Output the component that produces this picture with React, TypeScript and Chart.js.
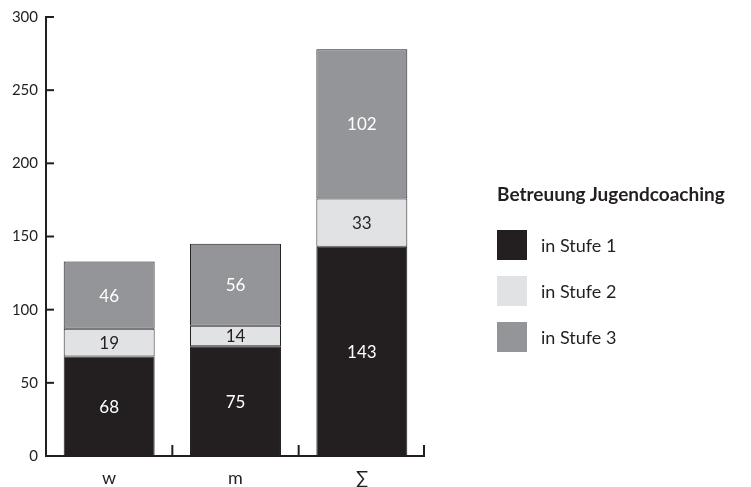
import React, { useEffect, useRef } from "react";
import { Chart, registerables } from "chart.js";

Chart.register(...registerables);

const categories = ["w", "m", "∑"];
const stufe1 = [68, 75, 143];
const stufe2 = [19, 14, 33];
const stufe3 = [46, 56, 102];
const seriesNames = ["in Stufe 1", "in Stufe 2", "in Stufe 3"];
const legendLabels = ["in Stufe 1", "in Stufe 2", "in Stufe 3"];
const legendTitle = "Betreuung Jugendcoaching";
const yTicks = [0, 50, 100, 150, 200, 250, 300];

const DARK = "#231f20";
const LIGHT = "#e1e2e4";
const MID = "#939598";
const FONT = "Lato, 'Open Sans', sans-serif";

const axisPlugin = {
  id: "axisPlugin",
  afterDatasetsDraw(chart: any) {
    const ctx = chart.ctx;
    const x = chart.scales.x;
    const y = chart.scales.y;
    const area = chart.chartArea;
    ctx.save();
    ctx.strokeStyle = DARK;
    ctx.lineWidth = 2;
    ctx.beginPath();
    ctx.moveTo(area.left, y.getPixelForValue(300) - 1);
    ctx.lineTo(area.left, y.getPixelForValue(0));
    ctx.lineTo(area.right, y.getPixelForValue(0));
    ctx.stroke();
    yTicks.forEach((v) => {
      const py = y.getPixelForValue(v);
      ctx.beginPath();
      ctx.moveTo(area.left, py);
      ctx.lineTo(area.left + 8, py);
      ctx.stroke();
    });
    const n = categories.length;
    for (let i = 1; i <= n; i++) {
      const px = (x.getPixelForValue(i - 1) + x.getPixelForValue(i)) / 2;
      const bx = i === n ? area.right - 1 : px;
      const py = y.getPixelForValue(0);
      ctx.beginPath();
      ctx.moveTo(bx, py);
      ctx.lineTo(bx, py - 11);
      ctx.stroke();
    }
    ctx.restore();
  },
};

const labelPlugin = {
  id: "labelPlugin",
  afterDatasetsDraw(chart: any) {
    const ctx = chart.ctx;
    ctx.save();
    ctx.font = `17px ${FONT}`;
    ctx.textAlign = "center";
    ctx.textBaseline = "middle";
    chart.data.datasets.forEach((ds: any, di: number) => {
      const meta = chart.getDatasetMeta(di);
      meta.data.forEach((bar: any, i: number) => {
        const v = ds.data[i];
        const cy = (bar.y + bar.base) / 2;
        ctx.fillStyle = di === 1 ? DARK : "#ffffff";
        ctx.fillText(String(v), bar.x, cy + 1);
      });
    });
    ctx.restore();
  },
};

export default function App() {
  const ref = useRef<HTMLCanvasElement | null>(null);
  useEffect(() => {
    if (!ref.current) return;
    const chart = new Chart(ref.current, {
      type: "bar",
      data: {
        labels: categories,
        datasets: [
          { label: seriesNames[0], data: stufe1, backgroundColor: DARK },
          { label: seriesNames[1], data: stufe2, backgroundColor: LIGHT },
          { label: seriesNames[2], data: stufe3, backgroundColor: MID },
        ].map((d) => ({
          ...d,
          borderColor: DARK,
          borderWidth: 1,
          borderSkipped: false,
          barPercentage: 0.72,
          categoryPercentage: 1,
        })),
      },
      options: {
        responsive: false,
        animation: false,
        layout: { padding: { top: 14, right: 326, left: 0, bottom: 0 } },
        plugins: { legend: { display: false }, tooltip: { enabled: false } },
        scales: {
          x: {
            stacked: true,
            grid: { display: false, drawTicks: false },
            border: { display: false },
            ticks: { color: DARK, font: { family: FONT, size: 18 }, padding: 11 },
            afterFit: (s: any) => {
              s.height = 31;
            },
          },
          y: {
            stacked: true,
            min: 0,
            max: 300,
            afterBuildTicks: (s: any) => {
              s.ticks = yTicks.map((v) => ({ value: v }));
            },
            grid: { display: false, drawTicks: false },
            border: { display: false },
            ticks: { color: DARK, font: { family: FONT, size: 15 }, padding: 8 },
            afterFit: (s: any) => {
              s.width = 46;
            },
          },
        },
      },
      plugins: [labelPlugin, axisPlugin],
    });
    return () => chart.destroy();
  }, []);

  const colors = [DARK, LIGHT, MID];
  return (
    <div style={{ position: "absolute", left: 0, top: 0, width: 751, height: 487, background: "#fff" }}>
      <canvas ref={ref} width={751} height={487} style={{ position: "absolute", left: 0, top: 0 }} />
      <div
        style={{
          position: "absolute",
          left: 497,
          top: 182,
          fontFamily: FONT,
          fontWeight: 700,
          fontSize: 19,
          color: DARK,
          whiteSpace: "nowrap",
        }}
      >
        {legendTitle}
      </div>
      {legendLabels.map((l, i) => (
        <div key={l} style={{ position: "absolute", left: 497, top: 230 + i * 46, height: 30, display: "flex", alignItems: "center" }}>
          <div style={{ width: 30, height: 30, background: colors[i] }} />
          <span style={{ marginLeft: 14, fontFamily: FONT, fontSize: 18, color: DARK, whiteSpace: "nowrap" }}>{l}</span>
        </div>
      ))}
    </div>
  );
}
